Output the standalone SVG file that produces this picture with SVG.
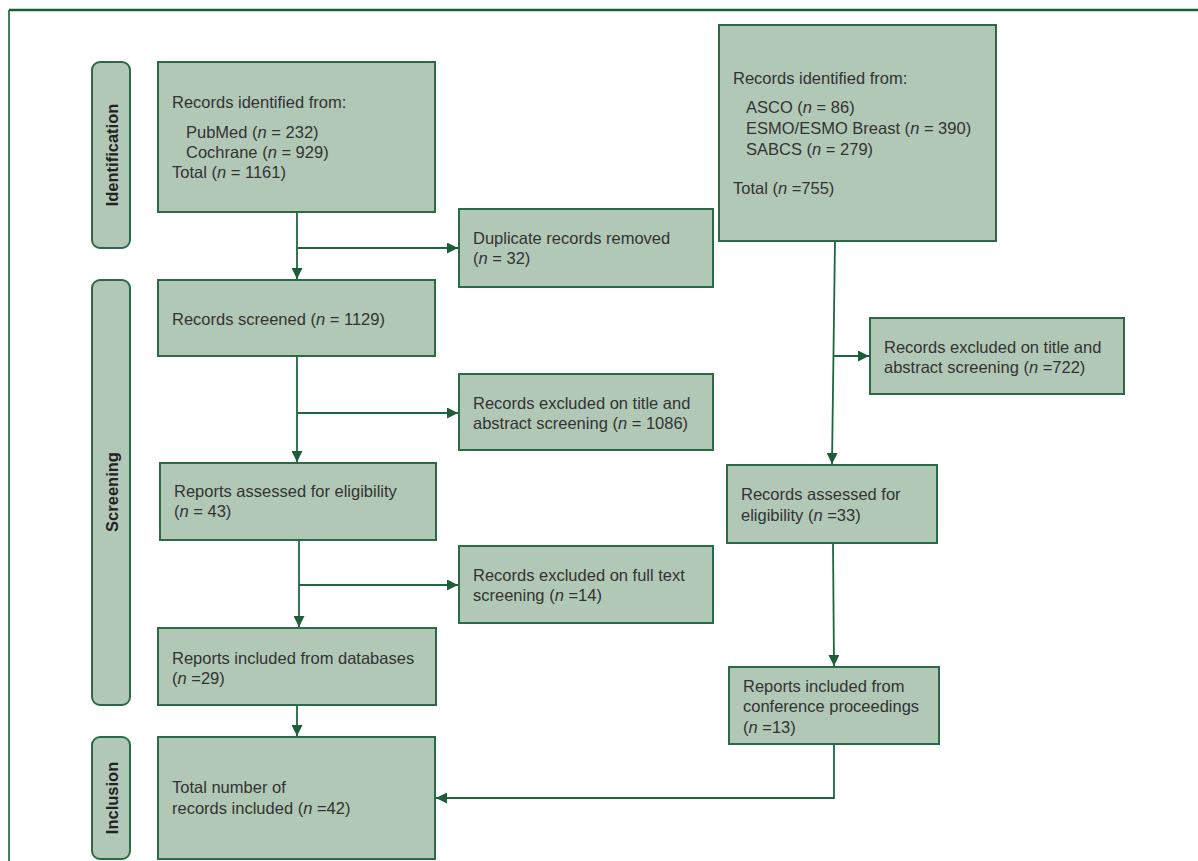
<svg xmlns="http://www.w3.org/2000/svg" width="1198" height="861" viewBox="0 0 1198 861">
<defs>
<marker id="ah" markerWidth="11" markerHeight="11" refX="11" refY="5.5" orient="auto" markerUnits="userSpaceOnUse">
<path d="M0,0 L11,5.5 L0,11 Z" fill="#1b5e38"/>
</marker>
<style>
.box{fill:#b1c8b7;stroke:#2b6a45;stroke-width:2}
.phase{fill:#b1c8b7;stroke:#2b6a45;stroke-width:2}
.t{font-family:"Liberation Sans",Arial,sans-serif;font-size:16.5px;fill:#333}
.p{font-family:"Liberation Sans",Arial,sans-serif;font-size:16.5px;font-weight:bold;fill:#222}
.c{fill:none;stroke:#1f6640;stroke-width:1.8}
</style>
</defs>
<rect width="1198" height="861" fill="#fff"/>
<g id="frame">
<line x1="9" y1="10" x2="1198" y2="10" stroke="#1a5c36" stroke-width="2.5"/>
<line x1="9" y1="10" x2="9" y2="861" stroke="#1a5c36" stroke-width="1.6"/>
</g>
<g id="phase-identification">
<rect class="phase" x="92" y="62" width="38" height="186" rx="8"/>
<text class="p" transform="translate(117.5,155) rotate(-90)" text-anchor="middle">Identification</text>
</g>
<g id="phase-screening">
<rect class="phase" x="92" y="280" width="38" height="425" rx="8"/>
<text class="p" transform="translate(117.5,492) rotate(-90)" text-anchor="middle">Screening</text>
</g>
<g id="phase-inclusion">
<rect class="phase" x="92" y="737" width="38" height="122" rx="8"/>
<text class="p" transform="translate(117.5,798) rotate(-90)" text-anchor="middle">Inclusion</text>
</g>
<g id="connectors">
<path class="c" d="M297,212 V279" marker-end="url(#ah)"/>
<path class="c" d="M297,248 H458" marker-end="url(#ah)"/>
<path class="c" d="M297,356 V462" marker-end="url(#ah)"/>
<path class="c" d="M297,413 H458" marker-end="url(#ah)"/>
<path class="c" d="M299,540 V627" marker-end="url(#ah)"/>
<path class="c" d="M299,585 H458" marker-end="url(#ah)"/>
<path class="c" d="M297,705 V736" marker-end="url(#ah)"/>
<path class="c" d="M835,241 L832,464" marker-end="url(#ah)"/>
<path class="c" d="M834,356 H869" marker-end="url(#ah)"/>
<path class="c" d="M833,543 L834,666" marker-end="url(#ah)"/>
<path class="c" d="M834,744 V798 H436" marker-end="url(#ah)"/>
</g>
<g id="db-identified">
<rect class="box" x="158" y="62" width="277" height="150"/>
<text class="t" x="172" y="108">Records identified from:</text>
<text class="t" x="186" y="138">PubMed (<tspan font-style="italic">n</tspan> = 232)</text>
<text class="t" x="186" y="158">Cochrane (<tspan font-style="italic">n</tspan> = 929)</text>
<text class="t" x="172" y="178">Total (<tspan font-style="italic">n</tspan> = 1161)</text>
</g>
<g id="conf-identified">
<rect class="box" x="719" y="25" width="277" height="216"/>
<text class="t" x="733" y="84">Records identified from:</text>
<text class="t" x="746" y="113">ASCO (<tspan font-style="italic">n</tspan> = 86)</text>
<text class="t" x="746" y="134">ESMO/ESMO Breast (<tspan font-style="italic">n</tspan> = 390)</text>
<text class="t" x="746" y="155">SABCS (<tspan font-style="italic">n</tspan> = 279)</text>
<text class="t" x="733" y="194">Total (<tspan font-style="italic">n</tspan> =755)</text>
</g>
<g id="duplicates">
<rect class="box" x="459" y="209" width="254" height="78"/>
<text class="t" x="473" y="244">Duplicate records removed</text>
<text class="t" x="473" y="264">(<tspan font-style="italic">n</tspan> = 32)</text>
</g>
<g id="screened">
<rect class="box" x="158" y="280" width="277" height="76"/>
<text class="t" x="172" y="325">Records screened (<tspan font-style="italic">n</tspan> = 1129)</text>
</g>
<g id="excluded-ta-db">
<rect class="box" x="459" y="374" width="254" height="76"/>
<text class="t" x="473" y="409">Records excluded on title and</text>
<text class="t" x="473" y="429">abstract screening (<tspan font-style="italic">n</tspan> = 1086)</text>
</g>
<g id="assessed-db">
<rect class="box" x="160" y="463" width="276" height="77"/>
<text class="t" x="174" y="497">Reports assessed for eligibility</text>
<text class="t" x="174" y="517">(<tspan font-style="italic">n</tspan> = 43)</text>
</g>
<g id="excluded-ft">
<rect class="box" x="459" y="546" width="254" height="77"/>
<text class="t" x="473" y="581">Records excluded on full text</text>
<text class="t" x="473" y="601">screening (<tspan font-style="italic">n</tspan> =14)</text>
</g>
<g id="included-db">
<rect class="box" x="158" y="628" width="278" height="77"/>
<text class="t" x="172" y="664">Reports included from databases</text>
<text class="t" x="172" y="684">(<tspan font-style="italic">n</tspan> =29)</text>
</g>
<g id="total-included">
<rect class="box" x="158" y="737" width="277" height="122"/>
<text class="t" x="172" y="793">Total number of</text>
<text class="t" x="172" y="814">records included (<tspan font-style="italic">n</tspan> =42)</text>
</g>
<g id="excluded-ta-conf">
<rect class="box" x="870" y="318" width="254" height="76"/>
<text class="t" x="884" y="353">Records excluded on title and</text>
<text class="t" x="884" y="373">abstract screening (<tspan font-style="italic">n</tspan> =722)</text>
</g>
<g id="assessed-conf">
<rect class="box" x="727" y="465" width="210" height="78"/>
<text class="t" x="741" y="500">Records assessed for</text>
<text class="t" x="741" y="521">eligibility (<tspan font-style="italic">n</tspan> =33)</text>
</g>
<g id="included-conf">
<rect class="box" x="729" y="667" width="210" height="77"/>
<text class="t" x="743" y="692">Reports included from</text>
<text class="t" x="743" y="712">conference proceedings</text>
<text class="t" x="743" y="733">(<tspan font-style="italic">n</tspan> =13)</text>
</g>
</svg>
